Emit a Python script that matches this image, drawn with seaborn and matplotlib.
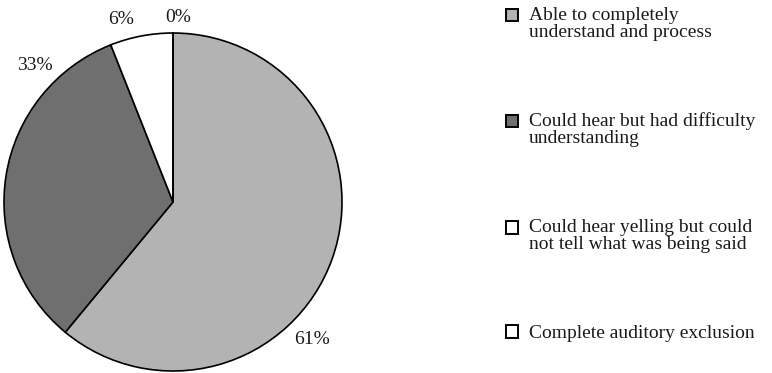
import matplotlib
matplotlib.use("Agg")
import matplotlib.pyplot as plt
import seaborn as sns
import numpy as np

# data
categories = [
    "Able to completely\nunderstand and process",
    "Could hear but had difficulty\nunderstanding",
    "Could hear yelling but could\nnot tell what was being said",
    "Complete auditory exclusion",
]
shares = [61, 33, 6, 0]
pct_labels = ["61%", "33%", "6%", "0%"]

# label placement (angle in degrees, radius in pie units)
label_angles = [-44.8, 135.5, 106.0, 88.5]
label_radius = [1.155, 1.15, 1.125, 1.09]

colors = ["#b3b3b3", "#6f6f6f", "#ffffff", "#ffffff"]

sns.set_theme(style="white")
plt.rcParams["font.family"] = ["Liberation Serif", "DejaVu Serif"]

FS = 14
LS = 0.99

fig = plt.figure(figsize=(7.72, 3.73), dpi=100)
ax = fig.add_axes([4 / 772, 2 / 373, 338 / 772, 338 / 373])

wedges, _ = ax.pie(
    shares,
    colors=colors,
    startangle=90,
    counterclock=False,
    radius=1.0,
    wedgeprops=dict(edgecolor="black", linewidth=1.2),
)
ax.set_xlim(-1, 1)
ax.set_ylim(-1, 1)
ax.set_aspect("equal")
ax.axis("off")

for txt, ang, r in zip(pct_labels, label_angles, label_radius):
    a = np.deg2rad(ang)
    ax.text(r * np.cos(a), r * np.sin(a), txt, ha="center", va="center",
            fontsize=FS, color="#1a1a1a", clip_on=False)

leg = fig.legend(
    wedges, categories,
    loc="upper left", bbox_to_anchor=(497 / 772, 375 / 373),
    frameon=False, prop={"size": FS},
    handlelength=0.62, handleheight=0.62, handletextpad=0.56,
    labelspacing=3.7, borderaxespad=0.0, borderpad=0.45,
)
for t in leg.get_texts():
    t.set_linespacing(LS)
    t.set_color("#1a1a1a")

# move the square of a two-line label up to its first line
for h, lab in zip(leg.legend_handles, categories):
    h.set_linewidth(1.4)
    n = lab.count("\n")
    if n:
        h.set_y(h.get_y() + 0.44 * n * LS * FS)

fig.savefig("out.png", dpi=100, facecolor="white")
